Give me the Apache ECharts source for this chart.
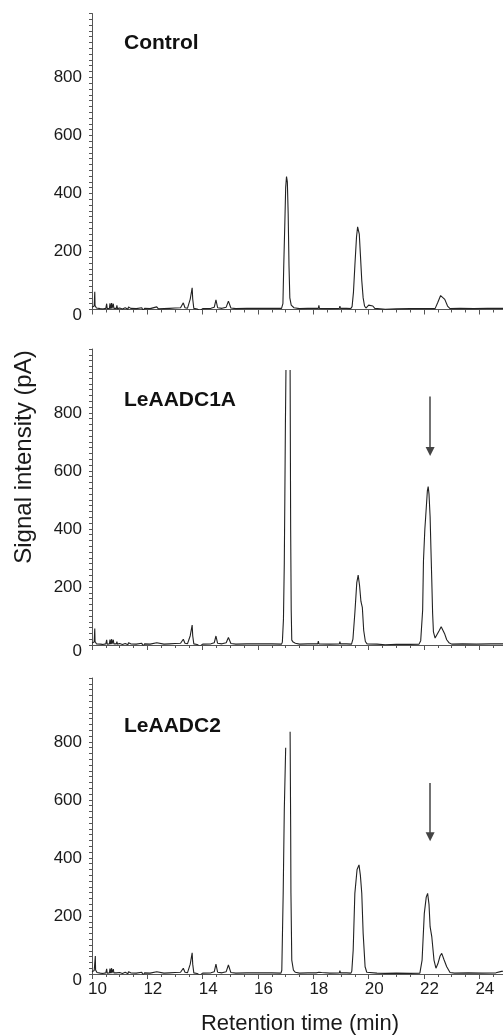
<!DOCTYPE html>
<html>
<head>
<meta charset="utf-8">
<script src="https://cdn.jsdelivr.net/npm/echarts@6/dist/echarts.min.js"></script>
<style>
  html, body { margin: 0; padding: 0; background: #fff; }
  #main { width: 503px; height: 1036px; }
</style>
</head>
<body>
<div id="main"></div>
<script>
// tick labels
var xLabels = [10, 12, 14, 16, 18, 20, 22, 24];
var yLabels = [0, 200, 400, 600, 800];
var panelNames = ['Control', 'LeAADC1A', 'LeAADC2'];

// retention time (min), signal (pA)
var ctrlTrace = [
    [10.0, 8], [10.05, 6], [10.08, 12], [10.1, 61], [10.11, 14], [10.14, 17], [10.16, 5], [10.22, 4],
    [10.3, 3], [10.35, 8], [10.38, 2], [10.5, 4], [10.53, 20], [10.55, 3], [10.63, 4], [10.65, 21],
    [10.67, 3], [10.71, 22], [10.72, 3], [10.77, 20], [10.79, 4], [10.88, 4], [10.9, 14], [10.92, 3],
    [11.0, 5], [11.1, 2], [11.2, 6], [11.3, 1], [11.32, 9], [11.4, 4], [11.6, 3], [11.8, 6], [11.85, -4],
    [11.9, 4], [12.1, 3], [12.34, 9], [12.4, 2], [12.6, 3], [12.8, 4], [13.0, 5], [13.2, 6], [13.3, 23],
    [13.36, 6], [13.45, 4], [13.55, 36], [13.6, 36], [13.62, 75], [13.64, 36], [13.68, 4], [13.8, 2],
    [13.9, -4], [14.0, 3], [14.3, 4], [14.42, 8], [14.48, 33], [14.54, 6], [14.7, 4], [14.85, 8],
    [14.93, 29], [15.02, 5], [15.2, 3], [15.6, 4], [16.0, 4], [16.5, 4], [16.85, 4], [16.9, 20],
    [16.93, 150], [16.97, 300], [17.0, 420], [17.03, 458], [17.06, 440], [17.09, 330], [17.12, 150],
    [17.15, 40], [17.2, 15], [17.3, 6], [17.5, 3], [17.8, 4], [18.18, 4], [18.2, 14], [18.22, 4],
    [18.6, 3], [18.94, 4], [18.96, 12], [18.98, 4], [19.2, 4], [19.35, 3], [19.4, 10], [19.45, 60],
    [19.5, 150], [19.56, 250], [19.6, 285], [19.63, 288], [19.66, 260], [19.7, 190], [19.75, 100],
    [19.8, 40], [19.85, 12], [19.9, 5], [19.95, 6], [20.0, 15], [20.07, 19], [20.15, 12], [20.22, 4],
    [20.6, 1], [21.0, 2], [21.5, 3], [22.0, 3], [22.4, 3], [22.5, 25], [22.6, 48], [22.66, 50],
    [22.75, 35], [22.85, 12], [22.94, 3], [23.3, 4], [23.8, 3], [24.3, 4], [25.0, 4]
];

var aadc1Trace = [
    [10.0, 7], [10.05, 5], [10.08, 10], [10.1, 57], [10.11, 12], [10.14, 15], [10.16, 4], [10.22, 3],
    [10.3, 3], [10.35, 7], [10.38, 2], [10.5, 4], [10.53, 18], [10.55, 3], [10.63, 4], [10.65, 19],
    [10.67, 3], [10.71, 20], [10.72, 3], [10.77, 18], [10.79, 4], [10.88, 4], [10.9, 12], [10.92, 3],
    [11.0, 5], [11.1, 2], [11.2, 5], [11.3, 1], [11.32, 8], [11.4, 4], [11.6, 3], [11.8, 6], [11.85, -4],
    [11.9, 4], [12.1, 3], [12.34, 8], [12.4, 2], [12.6, 3], [12.8, 4], [13.0, 5], [13.2, 6], [13.3, 20],
    [13.36, 6], [13.45, 4], [13.55, 32], [13.6, 32], [13.62, 69], [13.64, 32], [13.68, 4], [13.8, 2],
    [13.9, -4], [14.0, 3], [14.3, 4], [14.42, 8], [14.48, 31], [14.54, 6], [14.7, 4], [14.85, 8],
    [14.93, 26], [15.02, 5], [15.2, 3], [15.6, 4], [16.0, 4], [16.5, 4], [16.85, 3], [16.88, 10],
    [16.92, 90], [16.95, 283], [16.97, 511], [16.99, 760], [17.01, 948], [17.08, '-'],
    [17.16, 948], [17.18, 397], [17.2, 120], [17.22, 17], [17.27, 10], [17.35, 6], [17.5, 3],
    [17.8, 4], [18.16, 4], [18.18, 13], [18.2, 4], [18.6, 3], [18.94, 4], [18.96, 12], [18.98, 4],
    [19.2, 4], [19.38, 3], [19.43, 20], [19.5, 110], [19.57, 215], [19.62, 241], [19.67, 205],
    [19.72, 150], [19.77, 130], [19.82, 50], [19.88, 12], [19.94, 4], [20.3, 3], [20.6, 1],
    [21.0, 2], [21.5, 2], [21.82, 3], [21.88, 15], [21.95, 120], [21.98, 290], [22.03, 400],
    [22.06, 442], [22.12, 530], [22.15, 546], [22.18, 520], [22.22, 442], [22.25, 330], [22.28, 224],
    [22.31, 110], [22.34, 45], [22.4, 24], [22.47, 30], [22.55, 50], [22.62, 63], [22.66, 61],
    [22.74, 40], [22.82, 18], [22.9, 8], [23.0, 3], [23.4, 4], [23.9, 3], [24.4, 4], [25.0, 4]
];

var aadc2Trace = [
    [10.0, 8], [10.05, 6], [10.08, 12], [10.12, 62], [10.13, 14], [10.16, 16], [10.18, 5], [10.24, 3],
    [10.3, 3], [10.35, 8], [10.38, 2], [10.5, 4], [10.53, 18], [10.55, 3], [10.63, 4], [10.65, 19],
    [10.67, 3], [10.71, 20], [10.72, 3], [10.77, 17], [10.79, 4], [10.88, 4], [10.9, 10], [10.92, 3],
    [11.0, 5], [11.1, 2], [11.2, 6], [11.3, 1], [11.32, 8], [11.4, 4], [11.6, 3], [11.8, 6], [11.85, -4],
    [11.9, 4], [12.1, 3], [12.34, 8], [12.4, 2], [12.6, 3], [12.8, 4], [13.0, 5], [13.2, 6], [13.3, 20],
    [13.36, 6], [13.45, 4], [13.55, 34], [13.6, 34], [13.62, 73], [13.64, 34], [13.68, 4], [13.8, 2],
    [13.9, -4], [14.0, 3], [14.3, 4], [14.42, 8], [14.48, 34], [14.54, 6], [14.7, 4], [14.85, 8],
    [14.93, 31], [15.02, 5], [15.2, 3], [15.6, 4], [16.0, 4], [16.5, 4], [16.83, 3], [16.86, 13],
    [16.91, 278], [16.95, 566], [17.0, 780], [17.08, '-'], [17.16, 835], [17.18, 508], [17.19, 279],
    [17.22, 48], [17.28, 13], [17.35, 6], [17.5, 3], [17.8, 4], [18.1, 4], [18.15, 10], [18.2, 6],
    [18.25, 11], [18.3, 5], [18.6, 3], [18.94, 4], [18.96, 12], [18.98, 4], [19.2, 4], [19.36, 3],
    [19.39, 10], [19.44, 83], [19.5, 278], [19.58, 360], [19.65, 376], [19.7, 340], [19.75, 278],
    [19.8, 140], [19.87, 25], [19.93, 6], [20.3, 3], [20.6, 2], [21.0, 3], [21.5, 2], [21.85, 3],
    [21.88, 8], [21.93, 48], [22.01, 209], [22.08, 265], [22.13, 278], [22.18, 240], [22.22, 163],
    [22.28, 129], [22.36, 48], [22.43, 20], [22.5, 35], [22.58, 62], [22.64, 71], [22.72, 50],
    [22.82, 25], [22.94, 5], [23.1, 3], [23.6, 4], [24.1, 3], [24.6, 4], [24.8, 9], [25.0, 10]
];

// arrows marking the new peak: [time, top, tip]
var arrow1 = [22.22, 856, 667];
var arrow2 = [22.22, 658, 473];

var gridTops = [13.5, 349, 678];
var traces = [ctrlTrace, aadc1Trace, aadc2Trace];
var arrows = [null, arrow1, arrow2];
var titleY = [45, 402, 728];

var axisColor = '#555';
var textColor = '#1a1a1a';

var grids = [], xAxes = [], yAxes = [], seriesList = [], graphics = [];
for (var i = 0; i < 3; i++) {
    // x range runs past the right edge of the page, like the original figure
    grids.push({ left: 92, right: -31.7, top: gridTops[i], height: 296, outerBoundsMode: 'none', containLabel: false });
    xAxes.push({
        type: 'value', gridIndex: i, min: 10, max: 26, interval: 2,
        axisLine: { onZero: false, lineStyle: { color: axisColor, width: 1 } },
        axisTick: { show: true, length: 5, lineStyle: { color: axisColor } },
        minorTick: { show: true, splitNumber: 4, length: 3, lineStyle: { color: axisColor } },
        splitLine: { show: false },
        axisLabel: {
            show: i === 2, margin: 7, padding: [0, 0, 0, 11],
            fontFamily: 'Liberation Sans', fontSize: 17, color: textColor,
            formatter: function (v) { return xLabels.indexOf(v) >= 0 ? v : ''; }
        }
    });
    yAxes.push({
        type: 'value', gridIndex: i, min: 0, max: 1020, interval: 20,
        axisLine: { show: true, lineStyle: { color: axisColor, width: 1 } },
        axisTick: { show: true, length: 3, lineStyle: { color: axisColor } },
        splitLine: { show: false },
        axisLabel: {
            margin: 10, fontFamily: 'Liberation Sans', fontSize: 17, color: textColor,
            formatter: function (v) {
                if (yLabels.indexOf(v) < 0) return '';
                return v === 0 ? '{z|0}' : String(v);
            },
            rich: { z: { fontFamily: 'Liberation Sans', fontSize: 17, color: textColor, padding: [12, 0, 0, 0] } }
        }
    });
    var s = {
        type: 'line', xAxisIndex: i, yAxisIndex: i, data: traces[i],
        showSymbol: false, symbol: 'none', connectNulls: false,
        lineStyle: { color: '#222', width: 1.1 }
    };
    if (arrows[i]) {
        var a = arrows[i];
        s.markLine = {
            silent: true, symbol: ['none', 'triangle'], symbolSize: [9, 9],
            label: { show: false },
            lineStyle: { color: '#444', width: 1.5, type: 'solid' },
            data: [[{ coord: [a[0], a[1]] }, { coord: [a[0], a[2]] }]]
        };
    }
    seriesList.push(s);
    graphics.push({
        type: 'text', left: 124, top: titleY[i] - 12,
        style: { text: panelNames[i], fontFamily: 'Liberation Sans', fontWeight: 'bold', fontSize: 21, fill: '#111' }
    });
}

graphics.push({
    type: 'text', x: 24, y: 457, rotation: Math.PI / 2,
    style: { text: 'Signal intensity (pA)', fontFamily: 'Liberation Sans', fontSize: 24, fill: textColor,
        textAlign: 'center', textVerticalAlign: 'middle' }
});
graphics.push({
    type: 'text', x: 300, y: 1024,
    style: { text: 'Retention time (min)', fontFamily: 'Liberation Sans', fontSize: 22, fill: textColor,
        textAlign: 'center', textVerticalAlign: 'middle' }
});

var myChart = echarts.init(document.getElementById('main'), null, { renderer: 'canvas' });
myChart.setOption({
    animation: false,
    backgroundColor: '#fff',
    grid: grids,
    xAxis: xAxes,
    yAxis: yAxes,
    series: seriesList,
    graphic: graphics
});
</script>
</body>
</html>
